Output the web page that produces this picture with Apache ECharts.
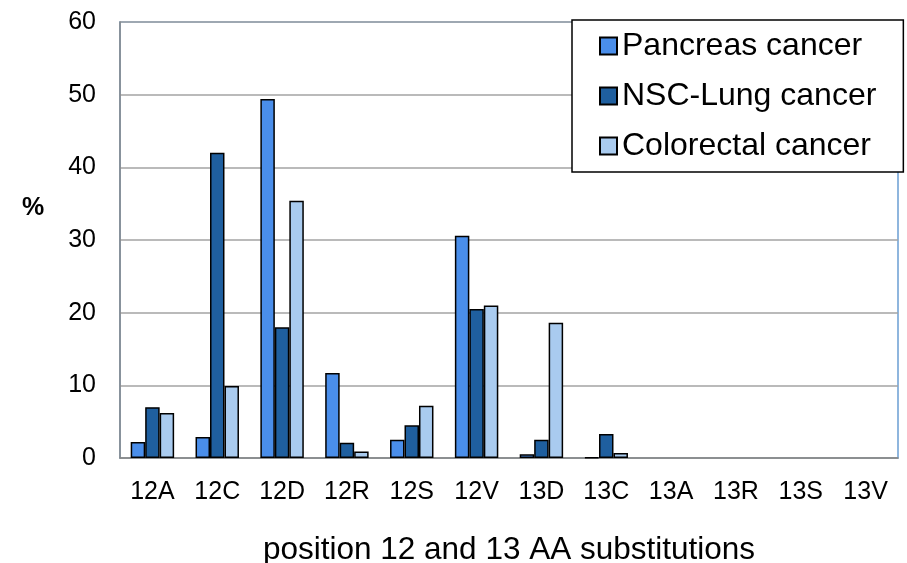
<!DOCTYPE html>
<html>
<head>
<meta charset="utf-8">
<script src="https://cdn.jsdelivr.net/npm/echarts@6/dist/echarts.min.js"></script>
<style>
  html, body { margin: 0; padding: 0; background: #fff; }
  #main { width: 907px; height: 563px; }
</style>
</head>
<body>
<div id="main"></div>
<script>
// substitutions on x axis
const categories = ['12A', '12C', '12D', '12R', '12S', '12V', '13D', '13C', '13A', '13R', '13S', '13V'];
// % of mutated cases
const pancreas   = [2.2, 2.9, 49.4, 11.7, 2.5, 30.6, 0.5, 0.1, 0, 0, 0, 0];
const nscLung    = [7.0, 42.0, 18.0, 2.1, 4.5, 20.5, 2.5, 3.3, 0, 0, 0, 0];
const colorectal = [6.2, 9.9, 35.4, 0.9, 7.2, 21.0, 18.6, 0.7, 0, 0, 0, 0];
const yTicks = [0, 10, 20, 30, 40, 50, 60];

const font = '"Liberation Sans", Arial, sans-serif';

var myChart = echarts.init(document.getElementById('main'));

function bar(name, data, color) {
  return {
    name: name,
    type: 'bar',
    // empty cells: no bar at all (avoids a border line on the axis)
    data: data.map(v => v === 0 ? '-' : v),
    barGap: '0%',
    barCategoryGap: '33%',
    itemStyle: { color: color, borderColor: '#000', borderWidth: 1.5 },
    emphasis: { disabled: true }
  };
}

myChart.setOption({
  animation: false,
  textStyle: { fontFamily: font },
  grid: {
    left: 120, right: 9, top: 22, bottom: 105,
    outerBoundsMode: 'none',
    show: true, borderColor: '#6b9fd3', borderWidth: 1.5
  },
  legend: {
    orient: 'vertical',
    left: 572, top: 20,
    padding: [10, 27, 10, 27],
    itemWidth: 17, itemHeight: 17, itemGap: 18,
    icon: 'rect',
    backgroundColor: '#fff',
    borderColor: '#000', borderWidth: 1.5,
    textStyle: { fontSize: 32, lineHeight: 32, color: '#000', fontFamily: font },
    data: ['Pancreas cancer', 'NSC-Lung cancer', 'Colorectal cancer']
  },
  xAxis: {
    type: 'category',
    data: categories,
    name: 'position 12 and 13 AA substitutions',
    nameLocation: 'middle',
    nameGap: 76,
    nameTextStyle: { fontSize: 31.5, color: '#000', fontFamily: font },
    axisLine: { lineStyle: { color: '#868686', width: 1.5 } },
    axisTick: { show: false },
    axisLabel: { fontSize: 25, color: '#000', margin: 22, interval: 0 }
  },
  yAxis: {
    type: 'value',
    min: yTicks[0], max: yTicks[yTicks.length - 1], interval: 10,
    axisLine: { show: true, lineStyle: { color: '#868686', width: 1.5 } },
    axisTick: { show: false },
    axisLabel: { fontSize: 25, color: '#000', margin: 24, padding: [8, 0, 0, 0] },
    splitLine: { lineStyle: { color: '#a3a3a3', width: 1.5 } }
  },
  graphic: [{
    type: 'text',
    left: 22, top: 196,
    style: { text: '%', font: 'bold 25px ' + font, fill: '#000' }
  }],
  series: [
    bar('Pancreas cancer', pancreas, '#4a8eea'),
    bar('NSC-Lung cancer', nscLung, '#1f5f9f'),
    bar('Colorectal cancer', colorectal, '#a9cbef')
  ]
});
</script>
</body>
</html>
